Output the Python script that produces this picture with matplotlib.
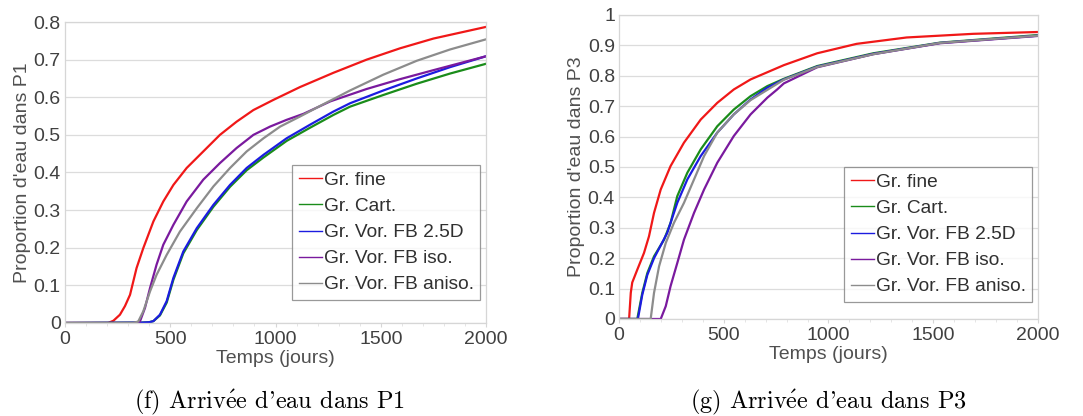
import numpy as np
import matplotlib as mpl
mpl.use('Agg')
import matplotlib.pyplot as plt
from matplotlib.ticker import MultipleLocator

plt.rcParams['font.family'] = ['Liberation Sans', 'DejaVu Sans']
plt.rcParams['mathtext.fontset'] = 'cm'

labels = ["Gr. fine", "Gr. Cart.", "Gr. Vor. FB 2.5D", "Gr. Vor. FB iso.", "Gr. Vor. FB aniso."]
colors = ["#f01818", "#1a8c1a", "#1c1ce0", "#7a1a9e", "#8c8c8c"]

# --- P1 ---
p1_fine_t = [0, 205, 230, 261, 285, 309, 340, 372, 420, 467, 515, 578, 657, 736, 815, 895, 990, 1116, 1275, 1433, 1591, 1750, 2000]
p1_fine_v = [0, 0, 0.006, 0.022, 0.045, 0.075, 0.146, 0.199, 0.27, 0.323, 0.367, 0.412, 0.456, 0.50, 0.535, 0.566, 0.593, 0.627, 0.665, 0.70, 0.73, 0.756, 0.787]
p1_cart_t = [0, 360, 400, 420, 451, 483, 515, 562, 626, 705, 784, 863, 943, 1053, 1164, 1275, 1354, 1512, 1671, 1829, 2000]
p1_cart_v = [0, 0.001, 0.002, 0.005, 0.02, 0.054, 0.115, 0.185, 0.247, 0.309, 0.362, 0.406, 0.44, 0.484, 0.519, 0.553, 0.575, 0.606, 0.636, 0.663, 0.689]
p1_25d_t = [0, 360, 400, 420, 451, 483, 515, 562, 626, 705, 784, 863, 943, 1053, 1164, 1275, 1354, 1512, 1671, 1829, 2000]
p1_25d_v = [0, 0.001, 0.002, 0.005, 0.022, 0.058, 0.12, 0.19, 0.252, 0.314, 0.367, 0.412, 0.447, 0.491, 0.527, 0.562, 0.584, 0.618, 0.65, 0.68, 0.709]
p1_iso_t = [0, 330, 356, 380, 404, 435, 467, 515, 578, 657, 736, 815, 895, 974, 1053, 1133, 1260, 1433, 1591, 1750, 2000]
p1_iso_v = [0, 0, 0.004, 0.04, 0.093, 0.155, 0.208, 0.261, 0.323, 0.381, 0.425, 0.465, 0.50, 0.522, 0.54, 0.556, 0.589, 0.622, 0.648, 0.672, 0.709]
p1_aniso_t = [0, 325, 348, 372, 404, 435, 483, 546, 626, 705, 784, 863, 943, 1022, 1117, 1212, 1354, 1512, 1671, 1829, 2000]
p1_aniso_v = [0, 0, 0.004, 0.031, 0.084, 0.128, 0.181, 0.243, 0.305, 0.363, 0.412, 0.456, 0.491, 0.522, 0.549, 0.577, 0.618, 0.66, 0.697, 0.727, 0.754]

# --- P3 ---
p3_fine_t = [0, 48, 56, 63, 87, 119, 143, 167, 199, 246, 310, 390, 469, 548, 628, 787, 946, 1134, 1373, 1691, 2000]
p3_fine_v = [0, 0, 0.086, 0.12, 0.162, 0.217, 0.272, 0.349, 0.426, 0.503, 0.58, 0.656, 0.711, 0.755, 0.788, 0.835, 0.874, 0.905, 0.926, 0.938, 0.944]
p3_cart_t = [0, 87, 111, 135, 167, 215, 246, 278, 326, 390, 469, 548, 628, 708, 787, 946, 1214, 1532, 2000]
p3_cart_v = [0, 0, 0.086, 0.151, 0.206, 0.261, 0.316, 0.404, 0.481, 0.558, 0.634, 0.689, 0.733, 0.766, 0.79, 0.832, 0.874, 0.909, 0.934]
p3_25d_t = [0, 90, 111, 135, 167, 230, 278, 326, 390, 469, 548, 628, 708, 787, 946, 1214, 1532, 2000]
p3_25d_v = [0, 0, 0.08, 0.145, 0.2, 0.283, 0.382, 0.459, 0.536, 0.613, 0.673, 0.722, 0.761, 0.788, 0.83, 0.872, 0.908, 0.932]
p3_iso_t = [0, 199, 223, 246, 278, 310, 358, 406, 469, 548, 628, 708, 755, 787, 946, 1214, 1532, 2000]
p3_iso_v = [0, 0, 0.042, 0.108, 0.184, 0.261, 0.349, 0.426, 0.514, 0.602, 0.673, 0.728, 0.755, 0.775, 0.828, 0.871, 0.907, 0.931]
p3_aniso_t = [0, 151, 167, 191, 223, 262, 310, 358, 406, 469, 548, 628, 787, 946, 1214, 1532, 2000]
p3_aniso_v = [0, 0, 0.086, 0.173, 0.25, 0.316, 0.382, 0.459, 0.536, 0.613, 0.673, 0.72, 0.787, 0.829, 0.871, 0.908, 0.932]

p1 = [(p1_fine_t, p1_fine_v), (p1_cart_t, p1_cart_v), (p1_25d_t, p1_25d_v), (p1_iso_t, p1_iso_v), (p1_aniso_t, p1_aniso_v)]
p3 = [(p3_fine_t, p3_fine_v), (p3_cart_t, p3_cart_v), (p3_25d_t, p3_25d_v), (p3_iso_t, p3_iso_v), (p3_aniso_t, p3_aniso_v)]

fig = plt.figure(figsize=(10.83, 4.16), dpi=100)
ax1 = fig.add_axes([0.060, 0.2236, 0.3888, 0.7235])
ax2 = fig.add_axes([0.5716, 0.2332, 0.3868, 0.7308])


def style(ax, ymax, ylabel):
    ax.set_xlim(0, 2000)
    ax.set_ylim(0, ymax)
    ax.xaxis.set_major_locator(MultipleLocator(500))
    ax.xaxis.set_minor_locator(MultipleLocator(100))
    ax.yaxis.set_major_locator(MultipleLocator(0.1))
    ax.yaxis.set_major_formatter(mpl.ticker.FuncFormatter(lambda v, p: "%g" % round(v, 2)))
    ax.grid(axis='y', color='#dcdcdc', lw=0.9)
    ax.set_axisbelow(True)
    for s in ax.spines.values():
        s.set_color('#d6d6d6')
        s.set_linewidth(0.9)
    ax.tick_params(which='major', length=3, color='#d6d6d6', labelsize=14, labelcolor='#404040', pad=3)
    ax.tick_params(which='minor', length=2, color='#e0e0e0')
    ax.tick_params(axis='y', length=0, pad=3)
    ax.set_xlabel("Temps (jours)", fontsize=14, color='#505050', labelpad=1)
    ax.set_ylabel(ylabel, fontsize=14, color='#505050', labelpad=2)


for ax, data in [(ax1, p1), (ax2, p3)]:
    for (t, v), c, lab in zip(data, colors, labels):
        ax.plot(t, v, color=c, lw=1.6, label=lab)

style(ax1, 0.8, "Proportion d'eau dans P1")
style(ax2, 1.0, "Proportion d'eau dans P3")

leg_kw = dict(loc='upper left', fontsize=13.8, frameon=True, fancybox=False, handlelength=1.2,
              handletextpad=0.1, labelspacing=0.45, borderpad=0.35, borderaxespad=0)
lg1 = ax1.legend(bbox_to_anchor=(292 / 1083, 1 - 165 / 416), bbox_transform=fig.transFigure, **leg_kw)
lg2 = ax2.legend(bbox_to_anchor=(844 / 1083, 1 - 167 / 416), bbox_transform=fig.transFigure, **leg_kw)
for lg in (lg1, lg2):
    lg.get_frame().set_edgecolor('#808080')
    lg.get_frame().set_linewidth(0.9)
    for line in lg.get_lines():
        line.set_linewidth(1.0)
    for txt in lg.get_texts():
        txt.set_color('#303030')

cap_kw = dict(family=['cmr10', 'DejaVu Serif'], fontsize=17.5, ha='center', va='center')
fig.text(270 / 1083, 1 - 402 / 416, "(f) Arriv$\\mathrm{\\acute{e}}$e d'eau dans P1", **cap_kw)
fig.text(828 / 1083, 1 - 402 / 416, "(g) Arriv$\\mathrm{\\acute{e}}$e d'eau dans P3", **cap_kw)

plt.savefig("out.png", dpi=100)
